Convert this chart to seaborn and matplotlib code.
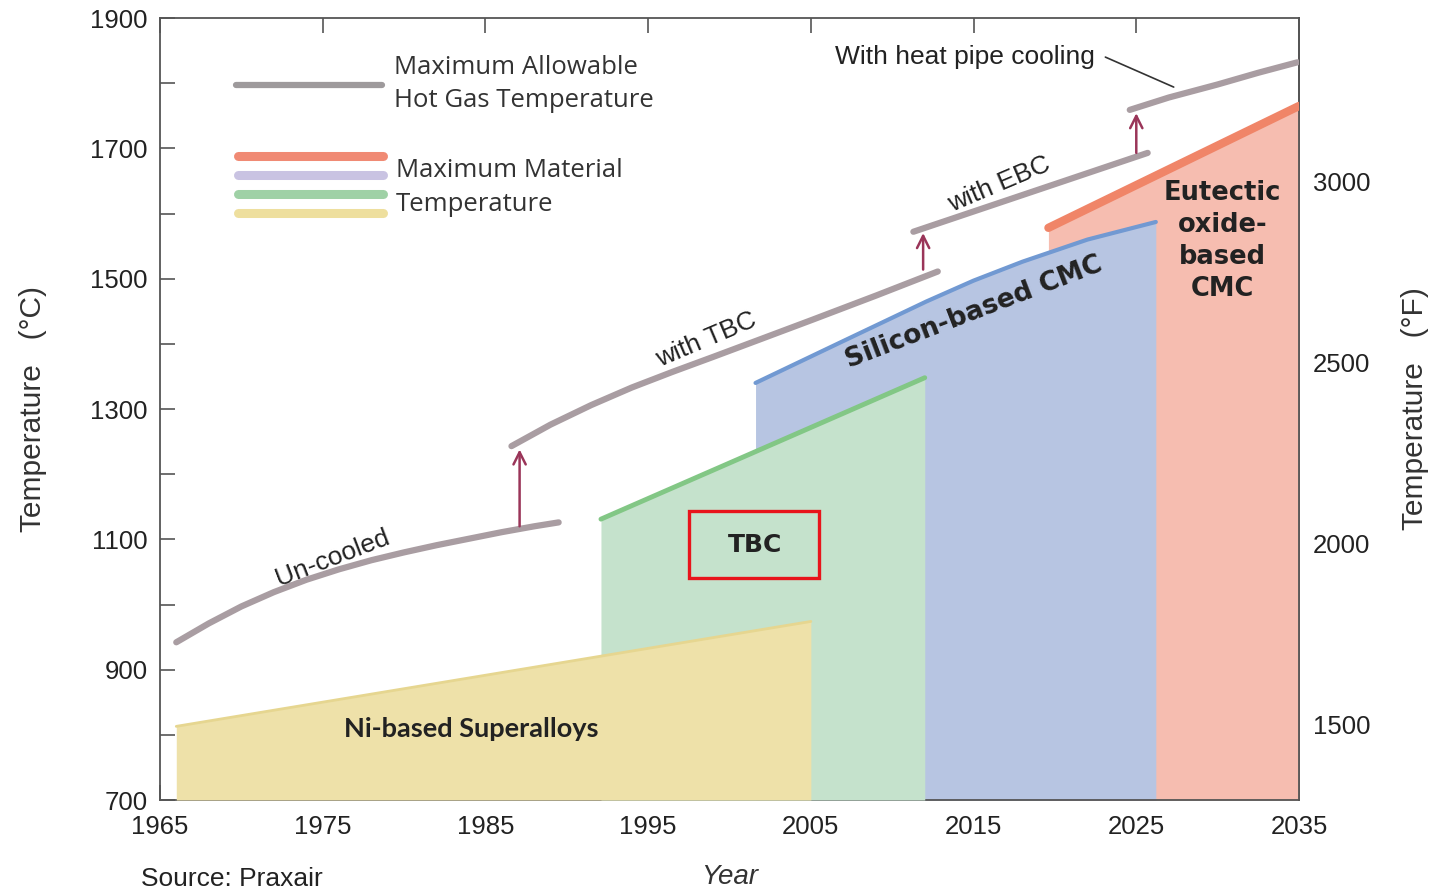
import matplotlib.pyplot as plt
import seaborn as sns
from matplotlib.patches import Rectangle

# material temperature bands (year, deg C)
ni_year = [1966.0, 2005.0]
ni_temp = [813, 974]
tbc_year = [1992.1, 2012.0]
tbc_temp = [1131, 1348]
sic_year = [2001.6, 2006.8, 2012.1, 2015.0, 2018.0, 2022.0, 2026.2]
sic_temp = [1340, 1402, 1465, 1497, 1526, 1560, 1587]
oxide_year = [2019.6, 2035.0]
oxide_temp = [1578, 1765]

# maximum allowable hot gas temperature segments
uncooled_year = [1966.0, 1968.0, 1970.0, 1972.0, 1974.0, 1976.0, 1978.0,
                 1980.0, 1982.0, 1984.0, 1986.0, 1988.0, 1989.5]
uncooled_temp = [942, 971, 997, 1019, 1038, 1054, 1068,
                 1080, 1091, 1101, 1111, 1120, 1126]
with_tbc_year = [1986.6, 1989.0, 1991.5, 1994.0, 1996.5, 1999.0, 2002.0,
                 2005.1, 2009.0, 2012.8]
with_tbc_temp = [1243, 1276, 1306, 1333, 1357, 1380, 1408, 1437, 1474, 1511]
with_ebc_year = [2011.3, 2025.7]
with_ebc_temp = [1572, 1693]
heat_pipe_year = [2024.6, 2027.0, 2030.0, 2032.5, 2034.9]
heat_pipe_temp = [1759, 1778, 1798, 1816, 1832]

# step-up arrows
arrow_year = [1987.1, 2011.9, 2025.0]
arrow_from = [1120, 1514, 1693]
arrow_to = [1238, 1570, 1754]

x_ticks = [1965, 1975, 1985, 1995, 2005, 2015, 2025, 2035]
c_ticks = [700, 900, 1100, 1300, 1500, 1700, 1900]
c_minor = [800, 1000, 1200, 1400, 1600, 1800]
f_ticks = [1500, 2000, 2500, 3000]

sns.set_theme(style="ticks")
plt.rcParams["font.family"] = ["Liberation Sans", "DejaVu Sans"]

fig = plt.figure(figsize=(14.39, 8.96), dpi=100)
ax = fig.add_axes([160 / 1439, 1 - 800 / 896, 1139 / 1439, 782 / 896])

# filled bands, back to front
ax.fill_between(oxide_year, 700, oxide_temp, color="#F6BDB0", lw=0, zorder=1)
ax.fill_between(sic_year, 700, sic_temp, color="#B7C5E2", lw=0, zorder=2)
ax.fill_between(tbc_year, 700, tbc_temp, color="#C5E2CC", lw=0, zorder=3)
ax.fill_between(ni_year, 700, ni_temp, color="#EEE1A9", lw=0, zorder=4)

sns.lineplot(x=oxide_year, y=oxide_temp, color="#F08568", lw=6, ax=ax, zorder=5)
sns.lineplot(x=sic_year, y=sic_temp, color="#7199D2", lw=3, ax=ax, zorder=5)
sns.lineplot(x=tbc_year, y=tbc_temp, color="#82C785", lw=3.5, ax=ax, zorder=5)
sns.lineplot(x=ni_year, y=ni_temp, color="#E6D690", lw=2, ax=ax, zorder=5)

gas = "#A99DA2"
for xs, ys in [(uncooled_year, uncooled_temp), (with_tbc_year, with_tbc_temp),
               (with_ebc_year, with_ebc_temp), (heat_pipe_year, heat_pipe_temp)]:
    sns.lineplot(x=xs, y=ys, color=gas, lw=4.5, ax=ax, zorder=6)

for xa, y0, y1 in zip(arrow_year, arrow_from, arrow_to):
    ax.annotate("", xy=(xa, y1), xytext=(xa, y0), zorder=7,
                arrowprops=dict(arrowstyle="->", color="#9A3559", lw=1.8,
                                mutation_scale=22, shrinkA=0, shrinkB=0))

# heat pipe pointer line
ax.plot([2023.1, 2027.3], [1840, 1794], color="#333333", lw=1.2, zorder=7)

# labels on the curves
txt = dict(ha="center", va="center", rotation_mode="anchor", color="#222222", zorder=8)
ax.text(1975.6, 1072, "Un-cooled", fontsize=19, rotation=21, **txt)
ax.text(1998.6, 1406, "with TBC", fontsize=19, rotation=23, **txt)
ax.text(2016.6, 1644, "with EBC", fontsize=19, rotation=23, **txt)
ax.text(2014.5, 1840, "With heat pipe cooling", fontsize=19, **txt)
ax.text(2015.0, 1448, "Silicon-based CMC", fontsize=19, rotation=21,
        family="DejaVu Sans", weight="bold", **txt)
ax.text(2030.3, 1558, "Eutectic\noxide-\nbased\nCMC", fontsize=18.5,
        family="DejaVu Sans", weight="bold", linespacing=1.3, **txt)
ax.text(2001.6, 1091, "TBC", fontsize=18, family="DejaVu Sans", weight="bold", **txt)
ax.text(1984.1, 809, "Ni-based Superalloys", fontsize=19.5, family="Lato",
        weight="bold", **txt)
ax.add_patch(Rectangle((1997.5, 1040), 8.0, 103, fill=False, ec="#E8141B",
                       lw=2.4, zorder=8))

# hand-drawn legend
lt = ax.transAxes
ax.plot([0.0667, 0.1949], [0.9143, 0.9143], color="#9E9A9C", lw=4.5,
        transform=lt, zorder=8)
for yy, cc in zip([0.8235, 0.7992, 0.7749, 0.7506],
                  ["#F08A74", "#C9C3E2", "#9FD1A6", "#EEDF9E"]):
    ax.plot([0.0685, 0.1958], [yy, yy], color=cc, lw=6.5, solid_capstyle="round",
            transform=lt, zorder=8)
leg = dict(transform=lt, fontsize=18.5, family="Open Sans", color="#333333",
           va="center", ha="left", zorder=8)
ax.text(0.2054, 0.9373, "Maximum Allowable", **leg)
ax.text(0.2054, 0.8939, "Hot Gas Temperature", **leg)
ax.text(0.2072, 0.8056, "Maximum Material", **leg)
ax.text(0.2072, 0.7609, "Temperature", **leg)

# axes
ax.set_xlim(1965, 2035)
ax.set_ylim(700, 1900)
ax.set_xticks(x_ticks)
ax.set_yticks(c_ticks)
ax.set_yticks(c_minor, minor=True)
ax.tick_params(which="both", direction="in", length=11, width=1.2, color="#555555",
               top=True, right=False, labelsize=18.5, labelcolor="#222222")
ax.tick_params(axis="x", pad=11)
ax.tick_params(axis="y", pad=9)
for sp in ax.spines.values():
    sp.set_color("#555555")
    sp.set_linewidth(1.3)
ax.set_ylabel("Temperature   (°C)", fontsize=21.5, color="#333333", labelpad=31)
ax.set_xlabel("Year", fontsize=20, style="italic", color="#333333", labelpad=18)

sec = ax.secondary_yaxis("right", functions=(lambda c: c * 9 / 5 + 32,
                                             lambda f: (f - 32) * 5 / 9))
sec.set_yticks(f_ticks)
sec.tick_params(direction="in", length=11, width=1.2, color="#555555",
                labelsize=18.5, labelcolor="#222222", pad=10)
sec.spines["right"].set_color("#555555")
sec.spines["right"].set_linewidth(1.3)
sec.set_ylabel("Temperature   (°F)", fontsize=21.5, color="#333333", labelpad=22)

fig.text(141 / 1439, 1 - 886 / 896, "Source: Praxair", fontsize=19, color="#222222",
         ha="left", va="baseline")

fig.savefig("out.png", dpi=100)
